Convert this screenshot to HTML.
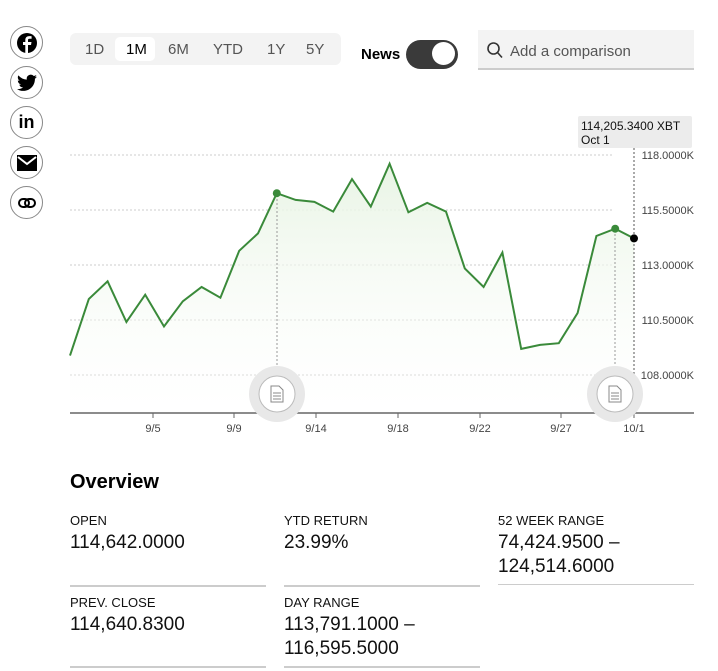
<!DOCTYPE html>
<html><head><meta charset="utf-8"><style>
body{margin:0;width:718px;height:671px;background:#fff;font-family:"Liberation Sans",sans-serif;position:relative;overflow:hidden;color:#000}
.a{position:absolute}
.soc{position:absolute;left:10px;width:31px;height:31px;border:1px solid #888;border-radius:50%;display:flex;align-items:center;justify-content:center;font-weight:bold;font-size:16px}
.lab{position:absolute;font-size:13px;color:#111}
.val{position:absolute;font-size:19px;line-height:24px;color:#111}
.div{position:absolute;height:2px;background:#ccc;width:196px}
</style></head><body>
<div class="soc" style="top:26px"><svg width="22" height="22" viewBox="0 0 22 22"><circle cx="11" cy="11" r="10" fill="#000"/><path d="M12 21V13h3l.5-3H12V8.3c0-.9.3-1.5 1.6-1.5H15.6V4.2c-.3 0-1.3-.1-2.4-.1-2.4 0-3.9 1.4-3.9 4V10H7v3h2.3v8z" fill="#fff"/></svg></div>
<div class="soc" style="top:66px"><svg width="20" height="18" viewBox="0 0 24 20"><path d="M24 2.4a10 10 0 0 1-2.8.8A5 5 0 0 0 23.3.4a10 10 0 0 1-3.1 1.2A4.9 4.9 0 0 0 11.8 6 14 14 0 0 1 1.7.9a4.9 4.9 0 0 0 1.5 6.6A5 5 0 0 1 1 6.9a4.9 4.9 0 0 0 3.9 4.9 5 5 0 0 1-2.2.1 4.9 4.9 0 0 0 4.6 3.4A9.9 9.9 0 0 1 0 17.3 14 14 0 0 0 7.5 19.5c9.1 0 14-7.5 14-14v-.6A10 10 0 0 0 24 2.4z" fill="#000"/></svg></div>
<div class="soc" style="top:106px;font-size:18px">in</div>
<div class="soc" style="top:146px"><svg width="20" height="16"><rect width="20" height="16" fill="#000"/><path d="M1 2l9 7 9-7" stroke="#fff" stroke-width="2" fill="none"/></svg></div>
<div class="soc" style="top:186px"><svg width="18" height="10"><rect x="1" y="1" width="10" height="8" rx="4" fill="none" stroke="#000" stroke-width="2"/><rect x="7" y="1" width="10" height="8" rx="4" fill="none" stroke="#000" stroke-width="2"/></svg></div>

<div class="a" style="left:70px;top:33px;width:271px;height:32px;background:#f3f3f3;border-radius:6px"></div>
<div class="a" style="left:115px;top:37px;width:40px;height:24px;background:#fff;border-radius:5px"></div>
<div class="a" style="top:41px;font-size:15px;color:#555;left:85px">1D</div>
<div class="a" style="top:41px;font-size:15px;color:#000;left:126px">1M</div>
<div class="a" style="top:41px;font-size:15px;color:#555;left:168px">6M</div>
<div class="a" style="top:41px;font-size:15px;color:#555;left:213px">YTD</div>
<div class="a" style="top:41px;font-size:15px;color:#555;left:267px">1Y</div>
<div class="a" style="top:41px;font-size:15px;color:#555;left:306px">5Y</div>
<div class="a" style="left:361px;top:46px;font-size:15px;font-weight:bold">News</div>
<div class="a" style="left:406px;top:40px;width:52px;height:29px;background:#3a3a3a;border-radius:15px"></div>
<div class="a" style="left:432px;top:42px;width:23px;height:23px;background:#fff;border-radius:50%"></div>
<div class="a" style="left:478px;top:30px;width:216px;height:38px;background:#f3f3f3;border-bottom:2px solid #ccc"></div>
<svg class="a" style="left:487px;top:42px" width="16" height="18"><circle cx="6.5" cy="6.5" r="5.5" fill="none" stroke="#333" stroke-width="1.6"/><path d="M10.5 10.5l4.5 5" stroke="#333" stroke-width="1.6"/></svg>
<div class="a" style="left:510px;top:43px;font-size:15px;color:#555">Add a comparison</div>

<svg class="a" style="left:0;top:0" width="718" height="440">
<defs><linearGradient id="g" x1="0" y1="0" x2="0" y2="1"><stop offset="0" stop-color="#e8f4e4"/><stop offset="1" stop-color="#ffffff" stop-opacity="0.2"/></linearGradient></defs>
<g stroke="#ccc" stroke-dasharray="2,2" stroke-width="1">
<line x1="70" y1="155" x2="614" y2="155"/><line x1="70" y1="210" x2="614" y2="210"/><line x1="70" y1="265" x2="614" y2="265"/><line x1="70" y1="320" x2="614" y2="320"/><line x1="70" y1="375" x2="614" y2="375"/>
</g>
<g font-size="11" fill="#444" text-anchor="end"><text x="694" y="159">118.0000K</text><text x="694" y="214">115.5000K</text><text x="694" y="269">113.0000K</text><text x="694" y="324">110.5000K</text><text x="694" y="379">108.0000K</text></g>
<path fill="url(#g)" d="M70,355.6 L88.8,299 107.6,281.3 126.4,322 145.2,294.7 164,326.5 182.8,301.3 201.6,287 220.4,297.7 239.2,250.8 258,233.4 276.8,193.2 295.6,199.9 314.4,201.9 333.2,211.6 352,179.1 370.8,206.6 389.6,163.7 408.4,212.3 427.2,202.9 446,211.6 464.8,268.5 483.6,287 502.4,252.5 521.2,348.9 540,344.9 558.8,343.2 577.6,313 596.4,236 615.2,228.7 634,238.4 L634,413 L70,413Z"/>
<g stroke="#999" stroke-dasharray="2,2"><line x1="277" y1="195" x2="277" y2="380"/><line x1="615" y1="230" x2="615" y2="380"/></g>
<line x1="634" y1="148" x2="634" y2="413" stroke="#555" stroke-dasharray="2,2"/>
<polyline fill="none" stroke="#3a8a3a" stroke-width="2" points="70,355.6 88.8,299 107.6,281.3 126.4,322 145.2,294.7 164,326.5 182.8,301.3 201.6,287 220.4,297.7 239.2,250.8 258,233.4 276.8,193.2 295.6,199.9 314.4,201.9 333.2,211.6 352,179.1 370.8,206.6 389.6,163.7 408.4,212.3 427.2,202.9 446,211.6 464.8,268.5 483.6,287 502.4,252.5 521.2,348.9 540,344.9 558.8,343.2 577.6,313 596.4,236 615.2,228.7 634,238.4"/>
<circle cx="276.8" cy="193.2" r="4" fill="#3a8a3a"/><circle cx="615.2" cy="228.7" r="4" fill="#3a8a3a"/><circle cx="634" cy="238.4" r="4" fill="#000"/>
<line x1="70" y1="413" x2="694" y2="413" stroke="#666" stroke-width="1.5"/>
<g stroke="#666"><line x1="153" y1="413" x2="153" y2="418"/><line x1="234" y1="413" x2="234" y2="418"/><line x1="316" y1="413" x2="316" y2="418"/><line x1="398" y1="413" x2="398" y2="418"/><line x1="480" y1="413" x2="480" y2="418"/><line x1="561" y1="413" x2="561" y2="418"/><line x1="634" y1="413" x2="634" y2="418"/></g>
<g font-size="11" fill="#444" text-anchor="middle"><text x="153" y="432">9/5</text><text x="234" y="432">9/9</text><text x="316" y="432">9/14</text><text x="398" y="432">9/18</text><text x="480" y="432">9/22</text><text x="561" y="432">9/27</text><text x="634" y="432">10/1</text></g>
<g><circle cx="277" cy="394" r="28" fill="#e8e8e8"/><circle cx="277" cy="394" r="18" fill="#fff" stroke="#bbb"/><path d="M271 386h8l4 4v12h-12z" fill="none" stroke="#888"/><path d="M273 393h8M273 396h8M273 399h8" stroke="#888"/></g>
<g><circle cx="615" cy="394" r="28" fill="#e8e8e8"/><circle cx="615" cy="394" r="18" fill="#fff" stroke="#bbb"/><path d="M609 386h8l4 4v12h-12z" fill="none" stroke="#888"/><path d="M611 393h8M611 396h8M611 399h8" stroke="#888"/></g>
<rect x="578" y="116" width="114" height="32" rx="2" fill="#ececec"/>
<text x="581" y="130" font-size="12" fill="#111">114,205.3400 XBT</text>
<text x="581" y="144" font-size="12" fill="#111">Oct 1</text>
</svg>

<div class="a" style="left:70px;top:471px;font-size:20px;font-weight:bold">Overview</div>
<div class="lab" style="left:70px;top:513px">OPEN</div>
<div class="val" style="left:70px;top:531px">114,642.0000</div>
<div class="lab" style="left:284px;top:513px">YTD RETURN</div>
<div class="val" style="left:284px;top:531px">23.99%</div>
<div class="lab" style="left:498px;top:513px">52 WEEK RANGE</div>
<div class="val" style="left:498px;top:531px">74,424.9500 –<br>124,514.6000</div>
<div class="div" style="left:70px;top:585px"></div>
<div class="div" style="left:284px;top:585px"></div>
<div class="div" style="left:498px;top:584px;height:1px"></div>
<div class="lab" style="left:70px;top:595px">PREV. CLOSE</div>
<div class="val" style="left:70px;top:613px">114,640.8300</div>
<div class="lab" style="left:284px;top:595px">DAY RANGE</div>
<div class="val" style="left:284px;top:613px">113,791.1000 –<br>116,595.5000</div>
<div class="div" style="left:70px;top:666px"></div>
<div class="div" style="left:284px;top:666px"></div>
</body></html>
